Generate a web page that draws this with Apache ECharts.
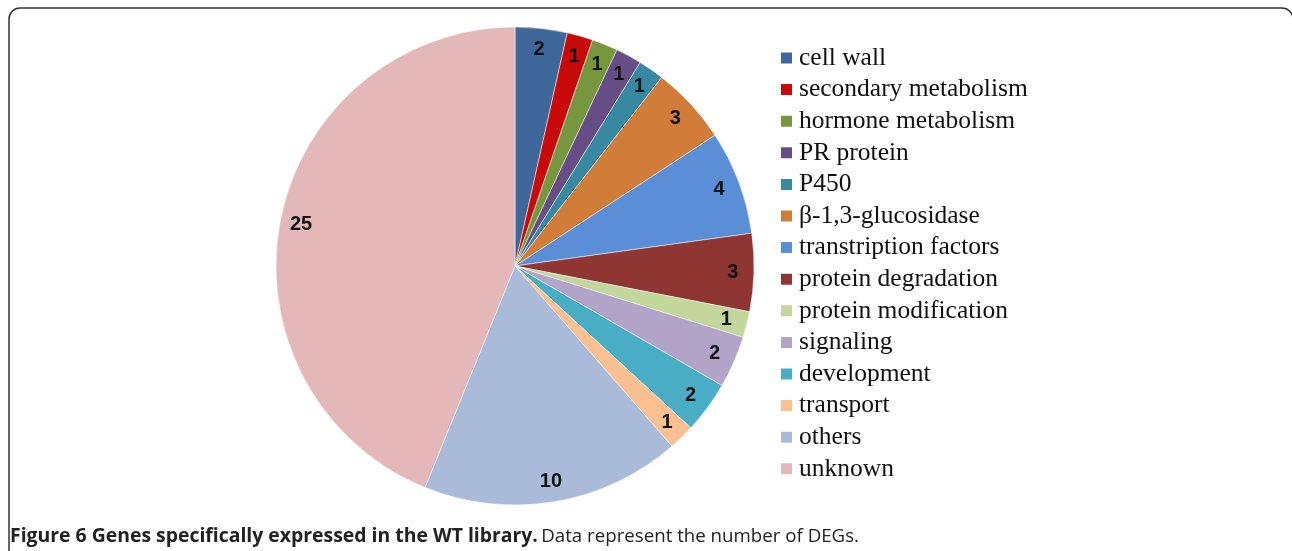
<!DOCTYPE html>
<html>
<head>
<meta charset="utf-8">
<title>WT library pie</title>
<script src="https://cdn.jsdelivr.net/npm/echarts@6/dist/echarts.min.js"></script>
</head>
<body style="margin:0;background:#fff;">
<div id="main" style="width:1292px;height:551px;"></div>
<script type="text/javascript">

var categories = ['cell wall', 'secondary metabolism', 'hormone metabolism', 'PR protein', 'P450',
  'β-1,3-glucosidase', 'transtription factors', 'protein degradation', 'protein modification',
  'signaling', 'development', 'transport', 'others', 'unknown'];
var counts = [2, 1, 1, 1, 1, 3, 4, 3, 1, 2, 2, 1, 10, 25];
var colors = ['#3F6799', '#C80A0A', '#77973F', '#664D86', '#3689A0', '#D17C38', '#5A8ED6',
  '#8F3532', '#C3D79D', '#B2A3C9', '#4AADC6', '#F9C092', '#AABBD9', '#E4B8B8'];

var chartDom = document.getElementById('main');
var myChart = echarts.init(chartDom);

var pieData = categories.map(function (name, i) {
  return { name: name, value: counts[i], itemStyle: { color: colors[i] } };
});

var option = {
  backgroundColor: '#fff',
  animation: false,
  legend: {
    orient: 'vertical',
    left: 779,
    top: 45,
    padding: 0,
    itemWidth: 13,
    itemHeight: 13,
    itemGap: 5.6,
    icon: 'rect',
    data: categories,
    textStyle: {
      fontFamily: 'Liberation Serif',
      fontSize: 25.5,
      color: '#111',
      lineHeight: 26,
      padding: [0, 0, 0, 1]
    }
  },
  graphic: [
    {
      type: 'rect',
      shape: { x: 9, y: 8, width: 1284, height: 560, r: 11 },
      style: { fill: null, stroke: '#333', lineWidth: 1.5 },
      silent: true
    },
    {
      type: 'text',
      left: 10,
      top: 527,
      style: {
        text: '{b|Figure 6 Genes specifically expressed in the WT library.} {n|Data represent the number of DEGs.}',
        rich: {
          b: { fontFamily: 'Open Sans', fontWeight: 'bold', fontSize: 19.4, fill: '#222' },
          n: { fontFamily: 'Open Sans', fontSize: 18.7, fill: '#222' }
        }
      }
    }
  ],
  series: [
    {
      type: 'pie',
      center: [515, 266],
      radius: [0, 239],
      startAngle: 90,
      clockwise: true,
      label: { show: false },
      labelLine: { show: false },
      itemStyle: { borderColor: '#fff', borderWidth: 0.5 },
      emphasis: { disabled: true },
      data: pieData
    },
    {
      type: 'pie',
      center: [515, 266],
      radius: [191, 239],
      startAngle: 90,
      clockwise: true,
      silent: true,
      itemStyle: { color: 'rgba(0,0,0,0)' },
      label: {
        show: true,
        position: 'inside',
        formatter: '{c}',
        fontFamily: 'Liberation Sans',
        fontWeight: 'bold',
        fontSize: 20,
        color: '#111'
      },
      labelLine: { show: false },
      data: categories.map(function (name, i) {
        return { name: name, value: counts[i] };
      })
    }
  ]
};

option && myChart.setOption(option);
</script>
</body>
</html>
